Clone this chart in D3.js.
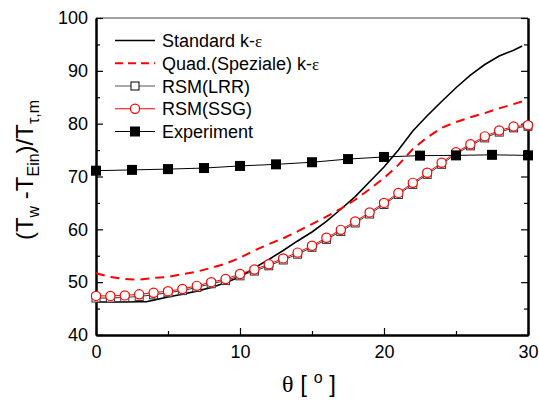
<!DOCTYPE html>
<html>
<head>
<meta charset="utf-8">
<script src="https://cdn.jsdelivr.net/npm/d3@7"></script>
<style>
  body { margin: 0; background: #fff; }
  svg { display: block; font-family: "Liberation Sans", Arial, sans-serif; }
</style>
</head>
<body>
<div id="chart"></div>
<script>
// data
const seriesNames = ["Standard k-ε", "Quad.(Speziale) k-ε", "RSM(LRR)", "RSM(SSG)", "Experiment"];

const stdX = [0, 1, 2, 3, 3.5, 4, 5, 6, 7, 8, 9, 10, 11, 12, 13, 14, 15, 16, 17, 18, 19, 20, 21, 22, 23, 24, 25, 26, 27, 28, 29, 29.6];
const stdY = [46.25, 46.25, 46.25, 46.3, 46.3, 46.6, 47.2, 47.7, 48.3, 49.0, 49.9, 51.0, 52.7, 54.3, 56.0, 57.8, 59.5, 61.5, 63.8, 66.2, 69.0, 71.8, 75.0, 78.6, 81.5, 84.2, 86.8, 89.2, 91.2, 92.8, 93.9, 94.7];

const quadX = [0, 1, 2, 2.6, 3, 4, 5, 6, 7, 8, 9, 10, 11, 12, 13, 14, 15, 16, 17, 18, 19, 20, 21, 22, 23, 24, 25, 26, 27, 28, 29, 29.6];
const quadY = [51.7, 51.0, 50.6, 50.5, 50.5, 50.8, 51.0, 51.5, 52.0, 52.7, 53.5, 54.6, 56.0, 57.2, 58.3, 59.6, 61.0, 62.4, 63.9, 65.6, 67.6, 69.7, 72.2, 75.2, 77.4, 79.2, 80.3, 81.2, 82.0, 82.9, 83.7, 84.2];

const rsmX = [0, 1, 2, 3, 4, 5, 6, 7, 8, 9, 10, 11, 12, 13, 14, 15, 16, 17, 18, 19, 20, 21, 22, 23, 24, 25, 26, 27, 28, 29, 30];
const lrrY = [47.0, 47.0, 47.1, 47.3, 47.6, 48.0, 48.4, 49.0, 49.7, 50.3, 51.2, 52.1, 53.1, 54.2, 55.3, 56.6, 58.1, 59.6, 61.2, 62.9, 64.7, 66.6, 68.5, 70.4, 72.3, 74.3, 75.8, 77.3, 78.4, 79.2, 79.5];
const ssgY = [47.4, 47.4, 47.5, 47.7, 48.0, 48.3, 48.7, 49.3, 50.0, 50.6, 51.55, 52.4, 53.4, 54.5, 55.6, 56.9, 58.4, 59.9, 61.5, 63.2, 65.0, 66.9, 68.8, 70.7, 72.6, 74.6, 76.1, 77.6, 78.7, 79.45, 79.7];

const expX = [0, 2.5, 5, 7.5, 10, 12.5, 15, 17.5, 20, 22.5, 25, 27.5, 30];
const expY = [71.1, 71.25, 71.4, 71.6, 72.0, 72.3, 72.7, 73.3, 73.7, 73.95, 74.0, 74.1, 74.0];

const xMajor = [0, 10, 20, 30];
const xMinor = [5, 15, 25];
const yMajor = [40, 50, 60, 70, 80, 90, 100];
const yMinor = [45, 55, 65, 75, 85, 95];

const width = 539, height = 401;
const svg = d3.select("#chart").append("svg")
  .attr("width", width)
  .attr("height", height);

const x = d3.scaleLinear().domain([0, 30]).range([96, 528]);
const y = d3.scaleLinear().domain([40, 100]).range([335, 18]);

const zip = (xs, ys) => xs.map((v, i) => [v, ys[i]]);
const line = d3.line().x(d => x(d[0])).y(d => y(d[1]));

// top border (thin)
svg.append("line")
  .attr("x1", x(0)).attr("x2", x(30))
  .attr("y1", y(100)).attr("y2", y(100))
  .attr("stroke", "#444").attr("stroke-width", 1);

function styleAxis(g) {
  g.select(".domain").attr("stroke", "#000").attr("stroke-width", 2);
  g.selectAll(".tick line").attr("stroke", "#000").attr("stroke-width", 1.2);
  g.selectAll("text").attr("fill", "#000").style("font-size", "18px")
    .style("font-family", "'Liberation Sans', Arial, sans-serif");
}

// bottom
svg.append("g").attr("transform", `translate(0,${y(40)})`)
  .call(d3.axisBottom(x).tickValues(xMajor).tickSize(-7).tickSizeOuter(0).tickPadding(10).tickFormat(d3.format("d")))
  .call(styleAxis);
svg.append("g").attr("transform", `translate(0,${y(40)})`)
  .call(d3.axisBottom(x).tickValues(xMinor).tickSize(-4).tickSizeOuter(0).tickFormat(""))
  .call(styleAxis);

// left
svg.append("g").attr("transform", `translate(${x(0)},0)`)
  .call(d3.axisLeft(y).tickValues(yMajor).tickSize(-7).tickSizeOuter(0).tickPadding(8).tickFormat(d3.format("d")))
  .call(styleAxis);
svg.append("g").attr("transform", `translate(${x(0)},0)`)
  .call(d3.axisLeft(y).tickValues(yMinor).tickSize(-4).tickSizeOuter(0).tickFormat(""))
  .call(styleAxis);

// right
svg.append("g").attr("transform", `translate(${x(30)},0)`)
  .call(d3.axisRight(y).tickValues(yMajor).tickSize(-7).tickSizeOuter(0).tickFormat(""))
  .call(styleAxis);
svg.append("g").attr("transform", `translate(${x(30)},0)`)
  .call(d3.axisRight(y).tickValues(yMinor).tickSize(-4).tickSizeOuter(0).tickFormat(""))
  .call(styleAxis);

const plot = svg.append("g");

// Standard k-eps
plot.append("path").datum(zip(stdX, stdY))
  .attr("d", line).attr("fill", "none")
  .attr("stroke", "#000").attr("stroke-width", 1.6);

// Quadratic k-eps
plot.append("path").datum(zip(quadX, quadY))
  .attr("d", line).attr("fill", "none")
  .attr("stroke", "#ff0000").attr("stroke-width", 2)
  .attr("stroke-dasharray", "9,6");

// RSM LRR
plot.append("path").datum(zip(rsmX, lrrY))
  .attr("d", line).attr("fill", "none")
  .attr("stroke", "#333").attr("stroke-width", 1);
plot.selectAll(".lrr").data(zip(rsmX, lrrY)).enter().append("rect")
  .attr("class", "lrr")
  .attr("x", d => x(d[0]) - 4).attr("y", d => y(d[1]) - 4)
  .attr("width", 8).attr("height", 8)
  .attr("fill", "#fff").attr("stroke", "#333").attr("stroke-width", 1);

// RSM SSG
plot.append("path").datum(zip(rsmX, ssgY))
  .attr("d", line).attr("fill", "none")
  .attr("stroke", "#ff0000").attr("stroke-width", 1);
plot.selectAll(".ssg").data(zip(rsmX, ssgY)).enter().append("circle")
  .attr("class", "ssg")
  .attr("cx", d => x(d[0])).attr("cy", d => y(d[1])).attr("r", 4.6)
  .attr("fill", "#fff").attr("stroke", "#ff0000").attr("stroke-width", 1.2);

// Experiment
plot.append("path").datum(zip(expX, expY))
  .attr("d", line).attr("fill", "none")
  .attr("stroke", "#000").attr("stroke-width", 1);
plot.selectAll(".exp").data(zip(expX, expY)).enter().append("rect")
  .attr("class", "exp")
  .attr("x", d => x(d[0]) - 5).attr("y", d => y(d[1]) - 5)
  .attr("width", 10).attr("height", 10)
  .attr("fill", "#000");

// legend
const legend = svg.append("g");
const rowY = i => 40.5 + i * 22.75;
const lx0 = 115, lx1 = 155, lxm = 135;

seriesNames.forEach((name, i) => {
  const g = legend.append("g").attr("transform", `translate(0,${rowY(i)})`);
  const ln = g.append("line").attr("x1", lx0).attr("x2", lx1).attr("y1", 0).attr("y2", 0);
  if (i === 0) ln.attr("stroke", "#000").attr("stroke-width", 1.6);
  if (i === 1) ln.attr("stroke", "#ff0000").attr("stroke-width", 2).attr("stroke-dasharray", "8,5");
  if (i === 2) {
    ln.attr("stroke", "#555").attr("stroke-width", 1);
    g.append("rect").attr("x", lxm - 4).attr("y", -4).attr("width", 8).attr("height", 8)
      .attr("fill", "#fff").attr("stroke", "#000");
  }
  if (i === 3) {
    ln.attr("stroke", "#ff0000").attr("stroke-width", 1);
    g.append("circle").attr("cx", lxm).attr("cy", 0).attr("r", 4.6)
      .attr("fill", "#fff").attr("stroke", "#ff0000").attr("stroke-width", 1.2);
  }
  if (i === 4) {
    ln.attr("stroke", "#000").attr("stroke-width", 1);
    g.append("rect").attr("x", lxm - 5).attr("y", -5).attr("width", 10).attr("height", 10).attr("fill", "#000");
  }
  const t = g.append("text").attr("x", 162).attr("y", 6.5)
    .style("font-size", "18px").attr("fill", "#000");
  if (name.endsWith("ε")) {
    t.append("tspan").text(name.slice(0, -1));
    t.append("tspan").style("font-family", "'Liberation Serif', serif").style("font-size", "17px").text("ε");
  } else {
    t.text(name);
  }
});

// y title
const yt = svg.append("text")
  .attr("transform", "translate(33,170) rotate(-90)")
  .attr("text-anchor", "middle")
  .style("font-size", "24px").attr("fill", "#000");
yt.append("tspan").text("(T");
yt.append("tspan").attr("dy", 6).style("font-size", "16px").text("w");
yt.append("tspan").attr("dy", -6).text(" -T");
yt.append("tspan").attr("dy", 6).style("font-size", "16px").text("Ein");
yt.append("tspan").attr("dy", -6).text(")/T");
yt.append("tspan").attr("dy", 6).style("font-size", "16px").text("τ,m");

// x title
const xt = svg.append("text")
  .attr("x", 309).attr("y", 392)
  .attr("text-anchor", "middle")
  .style("font-size", "24px").attr("fill", "#000");
xt.append("tspan").style("font-family", "'Liberation Serif', serif").text("θ");
xt.append("tspan").text(" [ ");
xt.append("tspan").attr("dy", -9).style("font-size", "16px").text("o");
xt.append("tspan").attr("dy", 9).text(" ]");
</script>
</body>
</html>
